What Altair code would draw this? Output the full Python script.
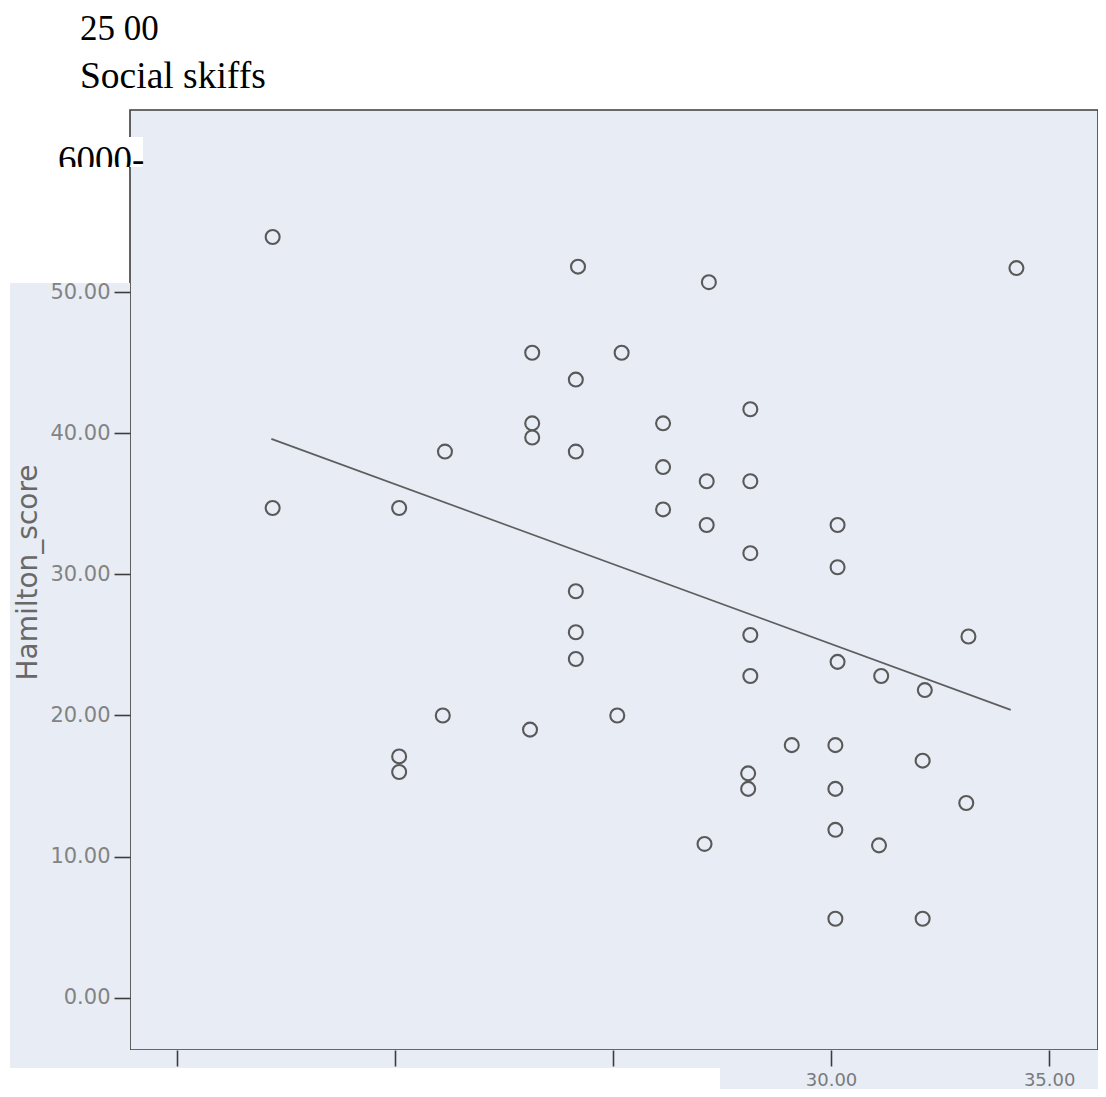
import altair as alt
import pandas as pd

# ---- data ----
social_skills = [17.2, 17.2, 24.2, 27.2, 34.25, 23.15, 25.2, 24.15, 28.15, 23.15,
                 23.15, 21.15, 24.15, 26.15, 26.15, 27.15, 28.15, 26.15, 27.15, 28.15,
                 30.15, 30.15, 20.1, 24.15, 24.15, 24.15, 28.15, 33.15, 30.15, 31.15,
                 32.15, 28.15, 21.1, 23.1, 25.1, 20.1, 20.1, 29.1, 30.1, 32.1,
                 28.1, 28.1, 30.1, 33.1, 30.1, 27.1, 31.1, 30.1, 32.1]
hamilton = [53.9, 34.7, 51.8, 50.7, 51.7, 45.7, 45.7, 43.8, 41.7, 40.7,
            39.7, 38.7, 38.7, 40.7, 37.6, 36.6, 36.6, 34.6, 33.5, 31.5,
            33.5, 30.5, 34.7, 28.8, 25.9, 24.0, 25.7, 25.6, 23.8, 22.8,
            21.8, 22.8, 20.0, 19.0, 20.0, 17.1, 16.0, 17.9, 17.9, 16.8,
            15.9, 14.8, 14.8, 13.8, 11.9, 10.9, 10.8, 5.6, 5.6]
reg_x = [17.17, 34.12]
reg_y = [39.6, 20.4]
x_ticks = [15, 20, 25, 30, 35]
y_ticks = [0, 10, 20, 30, 40, 50]
header_lines = ["25 00", "Social skiffs"]
stray_label = "6000-"
y_title = "Hamilton_score"

# ---- styling ----
W, H = 968, 940
BG = "#e8edf5"
INK = "#3c3c3c"

pts = pd.DataFrame({"x": social_skills, "y": hamilton})
reg = pd.DataFrame({"x": reg_x, "y": reg_y})
one = pd.DataFrame({"k": [0]})

xs = alt.Scale(domain=[13.93, 36.12], nice=False, zero=False)
ys = alt.Scale(domain=[-3.7, 62.9], nice=False, zero=False)


def panel(x1, x2, y1, y2, color):
    return alt.Chart(one).mark_rect(color=color).encode(
        x=alt.value(x1), x2=alt.value(x2), y=alt.value(y1), y2=alt.value(y2))


def label(txt, x, y, size=37):
    return alt.Chart(one).mark_text(
        align="left", baseline="alphabetic", font="Liberation Serif",
        fontSize=size, color="black").encode(
        x=alt.value(x), y=alt.value(y), text=alt.value(txt))


x_axis = alt.Axis(values=x_ticks, format=".2f",
                  labelExpr="datum.value >= 30 ? datum.label : ''",
                  labelFont="DejaVu Sans", labelFontSize=18, labelColor="#7a7a7a",
                  labelPadding=5, tickSize=16, tickColor=INK, tickWidth=1.6,
                  domain=False, grid=False, zindex=1, labelFlush=False, title=None)
y_axis = alt.Axis(values=y_ticks, format=".2f",
                  labelFont="DejaVu Sans", labelFontSize=21, labelColor="#838383",
                  labelPadding=4, tickSize=16, tickColor=INK, tickWidth=1.6,
                  domain=False, grid=False, zindex=1, labelFlush=False,
                  title=y_title, titleFont="DejaVu Sans", titleFontSize=28,
                  titleFontWeight="normal", titleColor="#686868",
                  titleAngle=270, titleX=-94, titleY=462,
                  titleAlign="center", titleBaseline="alphabetic")

points = alt.Chart(pts).mark_point(
    shape="circle", filled=False, size=195, strokeWidth=2.1,
    color="#595959", opacity=1).encode(
    x=alt.X("x:Q", scale=xs, axis=x_axis),
    y=alt.Y("y:Q", scale=ys, axis=y_axis))

line = alt.Chart(reg).mark_line(color="#5e5e5e", strokeWidth=1.7).encode(
    x=alt.X("x:Q", scale=xs), y=alt.Y("y:Q", scale=ys))

chart = alt.layer(
    panel(-120, 0, 173, 958, BG),
    panel(-120, 968, 940, 958, BG),
    panel(590, 968, 940, 979, BG),
    panel(-90, 13, 27, 57, "white"),
    line,
    points,
    label(header_lines[0], -50, -70, 35),
    label(header_lines[1], -50, -22, 37.5),
    label(stray_label, -72, 62),
    panel(-90, -1, 57, 66, "white"),
).properties(
    width=W, height=H,
    autosize=alt.AutoSizeParams(type="none"),
    padding={"left": 122, "top": 102, "right": 0, "bottom": 39},
    background="white",
).configure_view(fill=BG, stroke=INK, strokeWidth=1.6)

chart.save("out.html", embed_options={"renderer": "svg", "actions": False})
